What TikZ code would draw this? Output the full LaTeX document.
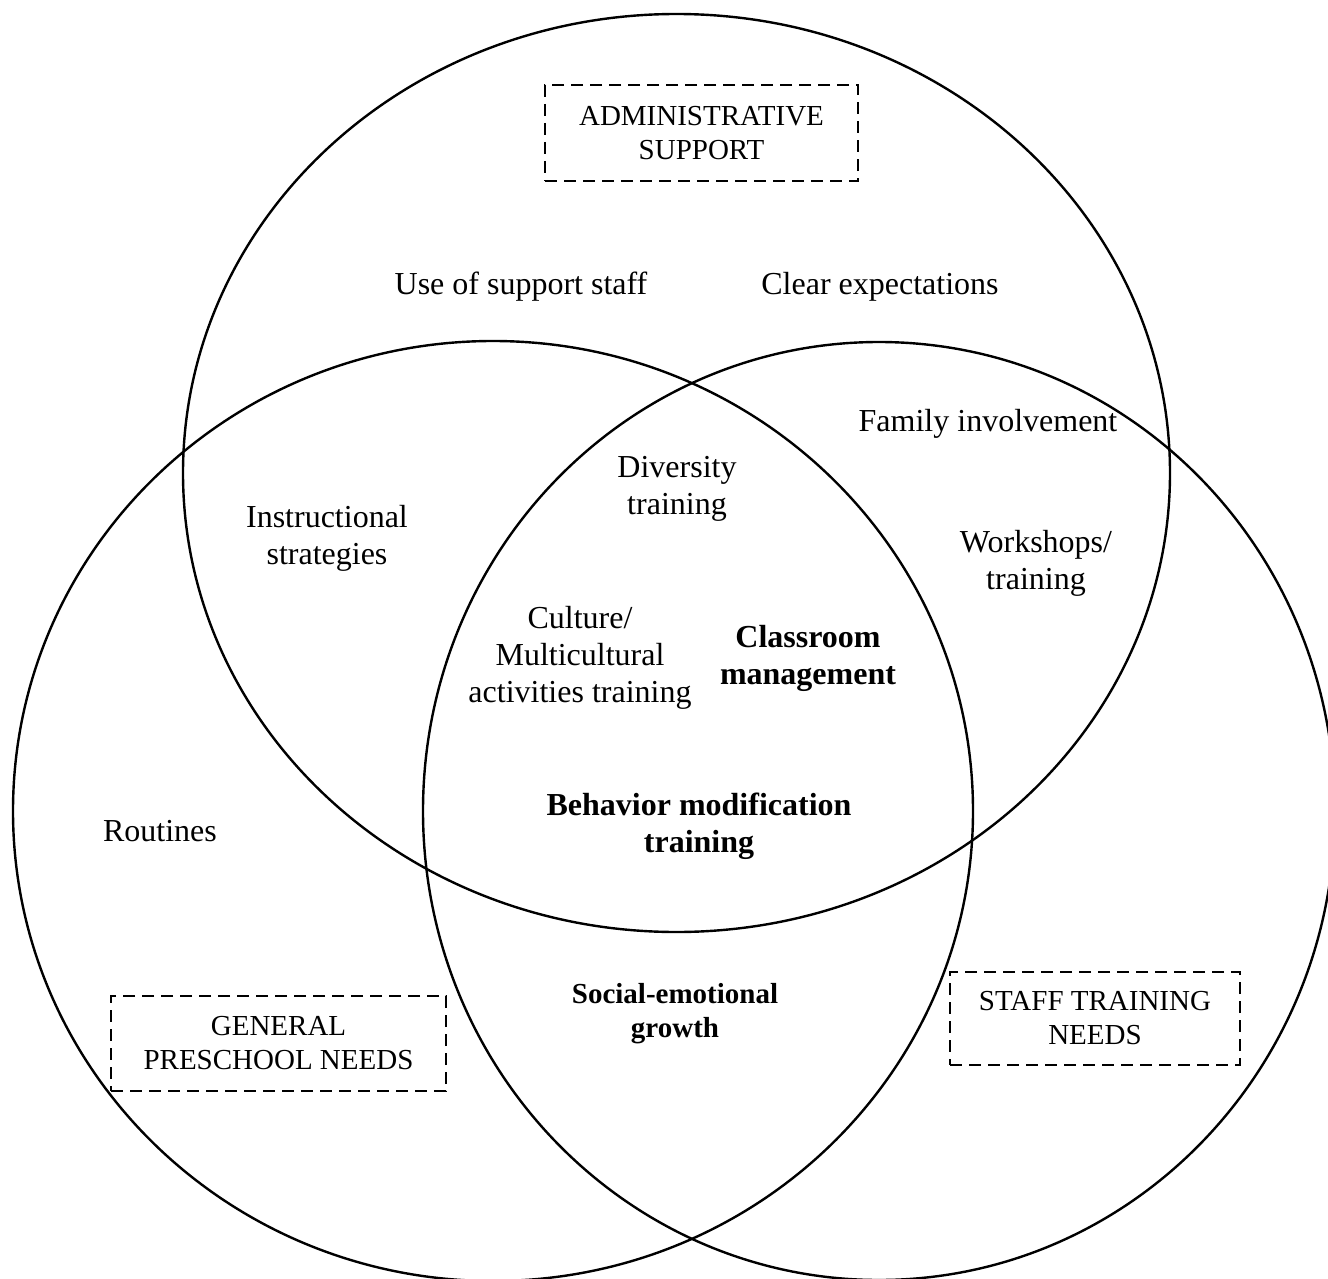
\documentclass[tikz,border=0pt]{standalone}
\usepackage{fontspec}
\setmainfont{Liberation Serif}
\begin{document}
\begin{tikzpicture}[x=0.5pt,y=-0.5pt,
  ring/.style={line width=1.2pt},
  lbl/.style={align=center, inner sep=0pt, font=\fontsize{16}{18.5}\selectfont},
  blbl/.style={align=center, inner sep=0pt, font=\fontsize{16}{18.5}\selectfont\bfseries},
  sblbl/.style={align=center, inner sep=0pt, font=\fontsize{14.5}{17}\selectfont\bfseries},
  tagbox/.style={draw, line width=0.8pt, dash pattern=on 6pt off 3.5pt, align=center, inner sep=0pt,
    font=\fontsize{14.5}{17}\selectfont}]
\useasboundingbox (0,0) rectangle (1328,1279);
\clip (0,0) rectangle (1328,1279);
% circles
\draw[ring] (676.5,473) ellipse [x radius=246.75pt, y radius=229.5pt];
\draw[ring] (493,811) ellipse [x radius=240pt, y radius=235pt];
\draw[ring] (879,811) ellipse [x radius=228pt, y radius=234.5pt];
% boxed titles
\node[tagbox, minimum width=156.5pt, minimum height=48pt] (admin) at (701.5,133) {ADMINISTRATIVE\\SUPPORT};
\node[tagbox, minimum width=167.5pt, minimum height=47.5pt] (general) at (278.5,1043.5) {GENERAL\\PRESCHOOL NEEDS};
\node[tagbox, minimum width=145pt, minimum height=46.5pt] (staff) at (1095,1018.5) {STAFF TRAINING\\NEEDS};
% labels
\node[lbl] (usestaff) at (521,287) {Use of support staff};
\node[lbl] (clearexp) at (880,287) {Clear expectations};
\node[lbl] (family) at (988,424) {Family involvement};
\node[lbl] (instr) at (327,538) {Instructional\\strategies};
\node[lbl] (divers) at (677,489) {Diversity\\training};
\node[lbl] (workshops) at (1036,563) {Workshops/\\training};
\node[lbl] (culture) at (580,658) {Culture/\\Multicultural\\activities training};
\node[blbl] (classroom) at (808,658) {Classroom\\management};
\node[blbl] (behavior) at (699,826) {Behavior modification\\training};
\node[lbl] (routines) at (160,831) {Routines};
\node[sblbl] (social) at (675,1014) {Social-emotional\\growth};
\end{tikzpicture}
\end{document}
